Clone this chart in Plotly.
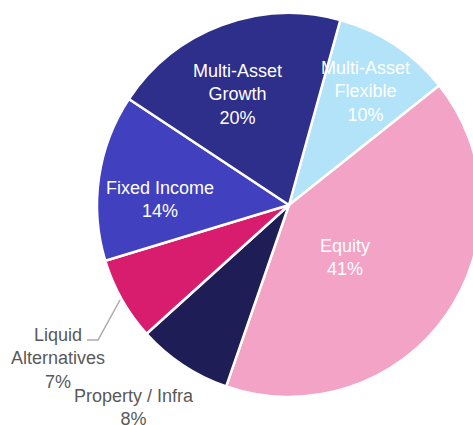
import plotly.graph_objects as go

# Data
labels = ["Multi-Asset Flexible", "Equity", "Property / Infra",
          "Liquid Alternatives", "Fixed Income", "Multi-Asset Growth"]
values = [10, 41, 8, 7, 14, 20]
colors = ["#b3e3f8", "#f3a3c6", "#1e1d56", "#d81d6e", "#4141c0", "#2e2e8b"]

# Label display text (line-broken) and styling
label_text = ["Multi-Asset<br>Flexible", "Equity", "Property / Infra",
              "Liquid<br>Alternatives", "Fixed Income", "Multi-Asset<br>Growth"]
label_pos = [(365, 91), (345, 257), (134, 407), (58, 358), (160, 199), (237, 94)]
label_inside = [True, True, False, False, True, True]

W, H = 490, 425
cx, cy, R = 289, 205, 192

fig = go.Figure(go.Pie(
    labels=labels, values=values, sort=False, direction="clockwise",
    rotation=15.5,
    marker=dict(colors=colors, line=dict(color="white", width=2.5)),
    textinfo="none", hoverinfo="label+percent", showlegend=False,
    domain=dict(x=[(cx - R) / W, (cx + R) / W],
                y=[(H - cy - R) / H, (H - cy + R) / H]),
))

annotations = []
for lab, v, (px, py), inside in zip(label_text, values, label_pos, label_inside):
    annotations.append(dict(
        x=px / W, y=1 - py / H, xref="paper", yref="paper",
        text=f"{lab}<br>{v}%", showarrow=False, align="center",
        xanchor="center", yanchor="middle",
        font=dict(family="Liberation Sans, Arial, sans-serif", size=18,
                  color="white" if inside else "#595959"),
    ))

fig.update_layout(
    width=W, height=H, margin=dict(l=0, r=0, t=0, b=0),
    paper_bgcolor="white", plot_bgcolor="white",
    annotations=annotations,
    shapes=[dict(type="path", xref="paper", yref="paper",
                 path=f"M {120/W} {1-300/H} L {98/W} {1-340/H} L {87/W} {1-340/H}",
                 line=dict(color="#aaaaaa", width=1.5))],
)

fig.write_html("out.html",
               config={"displayModeBar": False},
               post_script="document.documentElement.style.overflow='hidden';"
                           "document.body.style.overflow='hidden';"
                           "document.body.style.margin='0';")
